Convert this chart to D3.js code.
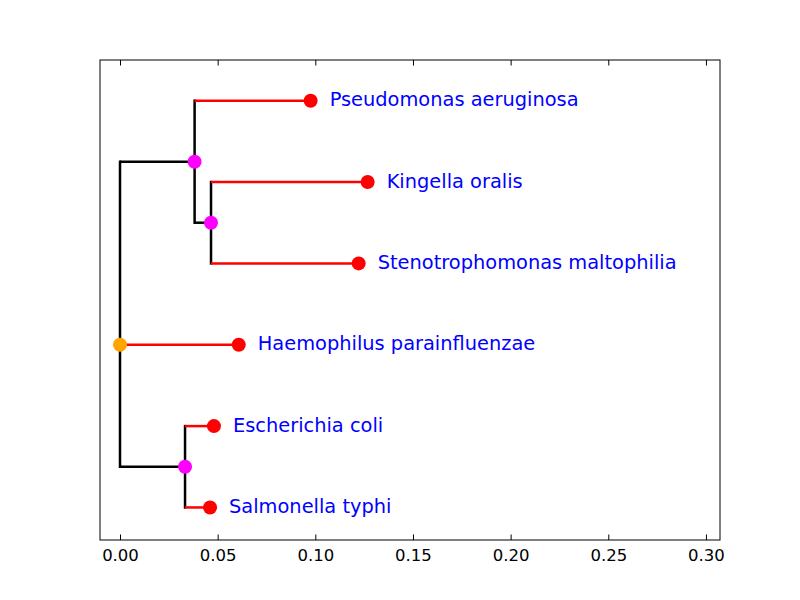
<!DOCTYPE html>
<html>
<head>
<meta charset="utf-8">
<script src="https://cdn.jsdelivr.net/npm/d3@7"></script>
<style>
  body { margin: 0; background: #fff; }
  text { font-family: "DejaVu Sans", sans-serif; }
</style>
</head>
<body>
<div id="tree"></div>
<script>
// tree nodes, one entry per node (empty name = internal node)
var nodeNames = ["", "", "Pseudomonas aeruginosa", "", "Kingella oralis",
  "Stenotrophomonas maltophilia", "Haemophilus parainfluenzae", "",
  "Escherichia coli", "Salmonella typhi"];
var parentIdx = [-1, 0, 1, 1, 3, 3, 0, 0, 7, 7];
var branchDepth = [0, 0.0382, 0.0976, 0.0466, 0.1268, 0.1222, 0.0608, 0.0333, 0.0481, 0.0461];
var rowPos = [4, 1.75, 1, 2.5, 2, 3, 4, 5.5, 5, 6];
var xTicks = [0, 0.05, 0.10, 0.15, 0.20, 0.25, 0.30];

var width = 800, height = 600;
// plot box (note: "top" is taken by window.top, so use other names)
var boxLeft = 100, boxRight = 720, boxTop = 60, boxBottom = 540;

var svg = d3.select("#tree").append("svg")
  .attr("width", width)
  .attr("height", height);

var x = d3.scaleLinear().domain([-0.01024, 0.3072]).range([boxLeft, boxRight]);
var y = d3.scaleLinear().domain([0.5, 6.4]).range([boxTop, boxBottom]);

var nodes = nodeNames.map(function(n, i) {
  return { name: n, parent: parentIdx[i], depth: branchDepth[i], row: rowPos[i] };
});
nodes.forEach(function(d, i) {
  d.kids = nodes.filter(function(c) { return c.parent === i; });
  d.leaf = d.kids.length === 0;
});

// vertical connectors for internal nodes
nodes.filter(function(d) { return !d.leaf; }).forEach(function(d) {
  var rows = d.kids.map(function(c) { return c.row; });
  svg.append("line")
    .attr("x1", x(d.depth)).attr("x2", x(d.depth))
    .attr("y1", y(d3.min(rows))).attr("y2", y(d3.max(rows)))
    .attr("stroke", "black").attr("stroke-width", 2.5)
    .attr("stroke-linecap", "square");
});

// horizontal branches
nodes.filter(function(d) { return d.parent >= 0; }).forEach(function(d) {
  var p = nodes[d.parent];
  svg.append("line")
    .attr("x1", x(p.depth)).attr("x2", x(d.depth))
    .attr("y1", y(d.row)).attr("y2", y(d.row))
    .attr("stroke", d.leaf ? "red" : "black")
    .attr("stroke-width", 2.5);
});

// node markers
svg.selectAll("circle.node").data(nodes).enter()
  .append("circle")
  .attr("class", "node")
  .attr("cx", function(d) { return x(d.depth); })
  .attr("cy", function(d) { return y(d.row); })
  .attr("r", 7)
  .attr("fill", function(d) {
    if (d.parent < 0) return "orange";
    return d.leaf ? "red" : "magenta";
  });

// leaf labels
svg.selectAll("text.label").data(nodes.filter(function(d) { return d.leaf; })).enter()
  .append("text")
  .attr("class", "label")
  .attr("x", function(d) { return x(d.depth) + 19; })
  .attr("y", function(d) { return y(d.row); })
  .attr("dy", "0.29em")
  .attr("fill", "blue")
  .attr("font-size", "19.4px")
  .text(function(d) { return d.name; });

// axes
var xAxis = d3.axisBottom(x).tickValues(xTicks).tickFormat(d3.format(".2f"))
  .tickSizeInner(-5.5).tickSizeOuter(0).tickPadding(9);
var gx = svg.append("g").attr("transform", "translate(0," + boxBottom + ")").call(xAxis);
gx.select(".domain").remove();
gx.selectAll("text").attr("font-size", "16.5px").attr("fill", "black")
  .attr("font-family", "DejaVu Sans, sans-serif");

var topAxis = d3.axisTop(x).tickValues(xTicks).tickFormat("")
  .tickSizeInner(-5.5).tickSizeOuter(0);
var gt = svg.append("g").attr("transform", "translate(0," + boxTop + ")").call(topAxis);
gt.select(".domain").remove();

svg.append("rect")
  .attr("x", boxLeft).attr("y", boxTop)
  .attr("width", boxRight - boxLeft).attr("height", boxBottom - boxTop)
  .attr("fill", "none").attr("stroke", "black").attr("stroke-width", 1);
</script>
</body>
</html>
